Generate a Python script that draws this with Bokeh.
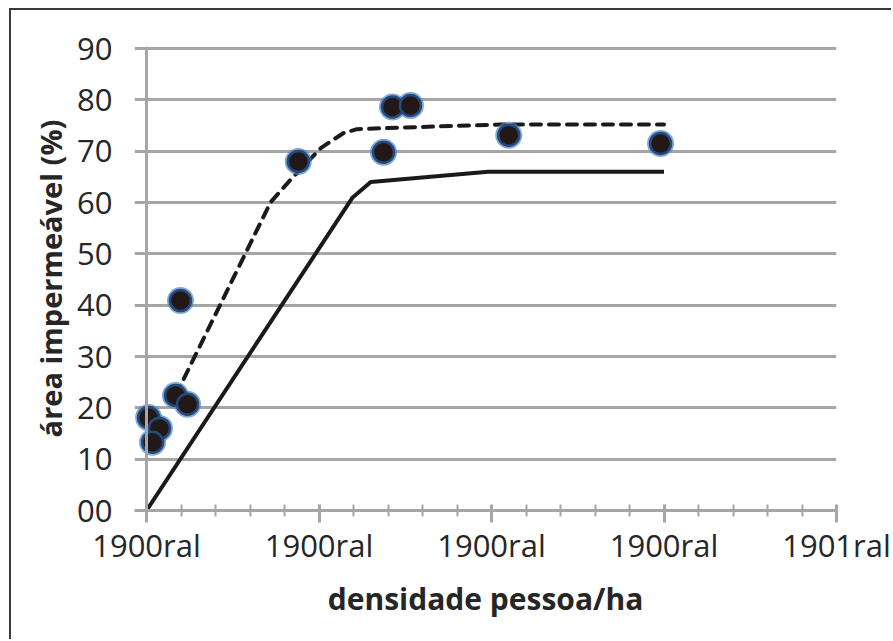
from bokeh.plotting import figure
from bokeh.models import Range1d, FixedTicker, Span, Title
from bokeh.embed import file_html
from bokeh.resources import INLINE

# ---- data ----
obs_x = [1.2, 7.5, 3.5, 16.8, 23.8, 19.7, 88.0, 137.4, 142.6, 153.0, 210.0, 298.0]
obs_y = [18.1, 16.0, 13.3, 22.4, 20.7, 40.9, 68.0, 69.8, 78.6, 78.9, 73.1, 71.5]

dash_x = [17.0, 72.0, 85.0, 101.0, 114.0, 122.0, 147.0, 205.0, 300.0]
dash_y = [22.5, 60.1, 65.0, 70.6, 73.5, 74.3, 74.6, 75.2, 75.2]

solid_x = [0.0, 119.5, 130.0, 198.0, 300.0]
solid_y = [0.0, 61.0, 64.0, 66.0, 66.0]

x_ticks = [0, 100, 200, 300, 400]
x_tick_labels = ["1900ral", "1900ral", "1900ral", "1900ral", "1901ral"]
x_minor_ticks = [20, 40, 60, 80, 120, 140, 160, 180, 220, 240, 260, 280,
                 320, 340, 360, 380]
y_ticks = [0, 10, 20, 30, 40, 50, 60, 70, 80, 90]
y_tick_labels = ["00", "10", "20", "30", "40", "50", "60", "70", "80", "90"]

x_title = "densidade pessoa/ha"
y_title = "área impermeável (%)"

FONT = "Open Sans"
GRID = "#a6a6a6"
TXT = "#262626"

# figure is offset 9/8 px and carries the chart's left/top border (2px)
OFF_X, OFF_Y, BW = 9, 8, 2
W, H = 893 - OFF_X - BW, 641 - OFF_Y - BW
FL, FT = 134 - OFF_X - BW, 46 - OFF_Y - BW

p = figure(width=W, height=H, output_backend="svg", toolbar_location=None,
           x_range=Range1d(-6.96, 400), y_range=Range1d(0, 90.4),
           min_border_left=FL, min_border_right=893 - 836,
           min_border_top=FT, min_border_bottom=641 - 510)
p.styles = {"margin-left": f"{OFF_X}px", "margin-top": f"{OFF_Y}px",
            "border-left": f"{BW}px solid #3a3a3a",
            "border-top": f"{BW}px solid #3a3a3a"}
p.outline_line_color = None
p.background_fill_color = "white"
p.border_fill_color = "white"

# grid
p.xgrid.grid_line_color = None
p.ygrid.ticker = FixedTicker(ticks=y_ticks)
p.ygrid.grid_line_color = GRID
p.ygrid.grid_line_width = 3

# x axis
xa = p.xaxis[0]
xa.ticker = FixedTicker(ticks=x_ticks, minor_ticks=x_minor_ticks)
xa.major_label_overrides = {t: l for t, l in zip(x_ticks, x_tick_labels)}
xa.axis_line_color = GRID
xa.axis_line_width = 3
xa.major_tick_line_color = GRID
xa.major_tick_line_width = 3
xa.major_tick_in = 6
xa.major_tick_out = 12
xa.minor_tick_line_color = GRID
xa.minor_tick_line_width = 2
xa.minor_tick_in = 6
xa.minor_tick_out = 6
xa.major_label_text_font = FONT
xa.major_label_text_font_size = "31px"
xa.major_label_text_color = TXT
xa.major_label_standoff = 1
xa.axis_label = x_title
xa.axis_label_text_font = FONT
xa.axis_label_text_font_style = "bold"
xa.axis_label_text_font_size = "30px"
xa.axis_label_text_color = TXT
xa.axis_label_standoff = 9

# y axis
ya = p.yaxis[0]
ya.ticker = FixedTicker(ticks=y_ticks)
ya.major_label_overrides = {t: l for t, l in zip(y_ticks, y_tick_labels)}
ya.axis_line_color = None
ya.major_tick_line_color = None
ya.minor_tick_line_color = None
ya.major_tick_in = 0
ya.major_tick_out = 0
ya.major_label_text_font = FONT
ya.major_label_text_font_size = "31px"
ya.major_label_text_color = TXT
ya.major_label_standoff = 22

p.add_layout(Title(text=y_title, align="center", standoff=10,
                   text_font=FONT, text_font_style="bold",
                   text_font_size="29px", text_color=TXT), "left")

# y axis line at x = 0
p.add_layout(Span(location=0, dimension="height", line_color=GRID, line_width=3))

# curves
p.line(solid_x, solid_y, line_color="#1a1a1a", line_width=4)
p.line(dash_x, dash_y, line_color="#1a1a1a", line_width=4,
       line_dash="10 8", line_cap="round")

# observed points
p.scatter(obs_x, obs_y, size=27, fill_color="#4f86c6", fill_alpha=0.7,
          line_color=None)
p.scatter(obs_x, obs_y, size=21, fill_color="#221818", line_color="#24497a",
          line_width=2.5)

open("out.html", "w").write(file_html(p, INLINE))
